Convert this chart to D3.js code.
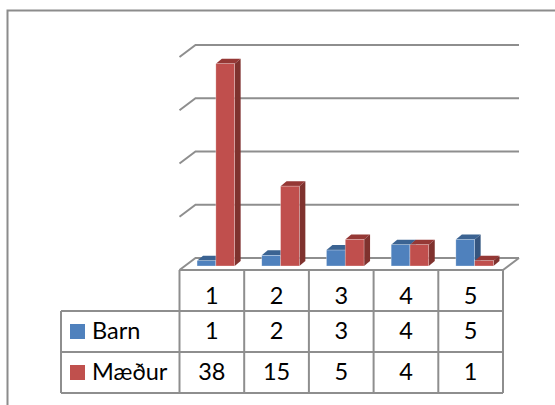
<!DOCTYPE html>
<html>
<head>
<meta charset="utf-8">
<script src="https://cdn.jsdelivr.net/npm/d3@7"></script>
<style>
  html, body { margin: 0; padding: 0; background: #fff; }
  svg { display: block; }
  text { font-family: Lato, "Open Sans", sans-serif; font-size: 23.5px; fill: #000; }
</style>
</head>
<body>
<svg></svg>
<script>
var categories = ["1", "2", "3", "4", "5"];
var seriesNames = ["Barn", "Mæður"];
var barn = [1, 2, 3, 4, 5];
var maedur = [38, 15, 5, 4, 1];
var yTicks = [0, 10, 20, 30, 40];

var width = 555;
var height = 405;
var gridColor = "#8e8e8e";

var colors = {
  "Barn": { face: "#4f81bd", side: "#34557f", top: "#3b6492" },
  "Mæður": { face: "#c0504d", side: "#7f312f", top: "#953735" }
};

var svg = d3.select("svg")
    .attr("width", width)
    .attr("height", height);

var defs = svg.append("defs");
defs.append("filter")
    .attr("id", "soft")
    .append("feGaussianBlur")
    .attr("stdDeviation", 0.45);

// outer frame, runs off the page on the right and bottom
svg.append("path")
    .attr("d", "M7.5," + height + "V10.5H" + width)
    .attr("fill", "none")
    .attr("stroke", "#8c8c8c")
    .attr("stroke-width", 2);

var xScale = d3.scaleBand()
    .domain(categories)
    .range([179.5, 503]);

// value axis measured on the back wall
var yScale = d3.scaleLinear()
    .domain([0, 40])
    .range([258, 45]);

var floorDepth = { dx: 16, dy: 12 };
var barDepth = { dx: 6, dy: 5 };
var barBase = 266;
var barWidth = 18.8;
var barShift = 4;

var walls = svg.append("g")
    .attr("fill", "none")
    .attr("stroke", gridColor)
    .attr("stroke-width", 2)
    .attr("filter", "url(#soft)");

walls.selectAll("path")
    .data(yTicks)
    .enter()
    .append("path")
    .attr("d", function(d) {
      var left = xScale.range()[0] + floorDepth.dx;
      var right = xScale.range()[1] + floorDepth.dx;
      return "M" + (left - floorDepth.dx) + "," + (yScale(d) + floorDepth.dy) +
             "L" + left + "," + yScale(d) + "H" + right;
    });

// front edge of the floor and its right side
walls.append("path")
    .attr("d", "M" + xScale.range()[0] + "," + (yScale(0) + floorDepth.dy) +
               "H" + xScale.range()[1] +
               "l" + floorDepth.dx + "," + (-floorDepth.dy));

var series = [
  { name: "Barn", values: barn, offset: 0 },
  { name: "Mæður", values: maedur, offset: 1 }
];

function heightOf(v) {
  return yScale(0) - yScale(v);
}

var barData = [];
categories.forEach(function(c, i) {
  series.forEach(function(s) {
    barData.push({ category: c, name: s.name, value: s.values[i], offset: s.offset });
  });
});

var bars = svg.append("g")
    .attr("filter", "url(#soft)")
    .selectAll("g")
    .data(barData)
    .enter()
    .append("g")
    .attr("transform", function(d) {
      var cx = xScale(d.category) + xScale.bandwidth() / 2 + barShift;
      return "translate(" + (cx - barWidth + d.offset * barWidth) + "," + (barBase - heightOf(d.value)) + ")";
    });

bars.append("path")
    .attr("fill", function(d) { return colors[d.name].top; })
    .attr("d", function() {
      return "M0,0l" + barDepth.dx + "," + (-barDepth.dy) + "h" + barWidth +
             "l" + (-barDepth.dx) + "," + barDepth.dy + "z";
    });

bars.append("path")
    .attr("fill", function(d) { return colors[d.name].side; })
    .attr("d", function(d) {
      var h = heightOf(d.value);
      return "M" + barWidth + ",0l" + barDepth.dx + "," + (-barDepth.dy) + "v" + h +
             "l" + (-barDepth.dx) + "," + barDepth.dy + "z";
    });

bars.append("rect")
    .attr("width", barWidth)
    .attr("height", function(d) { return heightOf(d.value); })
    .attr("fill", function(d) { return colors[d.name].face; })
    .attr("stroke", "#fff")
    .attr("stroke-opacity", 0.5)
    .attr("stroke-width", 0.6);

// data table under the plot
var rowTops = [270, 311, 352, 393];
var baselines = [304, 339, 380];
var legendLeft = 61;

var table = svg.append("g")
    .attr("fill", "none")
    .attr("stroke", gridColor)
    .attr("stroke-width", 2);

categories.concat([null]).forEach(function(c) {
  var x = c === null ? xScale.range()[1] : xScale(c);
  table.append("line")
      .attr("x1", x).attr("x2", x)
      .attr("y1", rowTops[0]).attr("y2", rowTops[3]);
});

table.append("line")
    .attr("x1", legendLeft).attr("x2", legendLeft)
    .attr("y1", rowTops[1]).attr("y2", rowTops[3]);

rowTops.slice(1).forEach(function(y) {
  table.append("line")
      .attr("x1", legendLeft).attr("x2", xScale.range()[1])
      .attr("y1", y).attr("y2", y);
});

function cellText(values, baseline) {
  svg.append("g")
      .selectAll("text")
      .data(values)
      .enter()
      .append("text")
      .text(function(d) { return d; })
      .attr("x", function(d, i) { return xScale(categories[i]) + xScale.bandwidth() / 2; })
      .attr("y", baseline)
      .style("text-anchor", "middle");
}

cellText(categories, baselines[0]);
cellText(barn, baselines[1]);
cellText(maedur, baselines[2]);

seriesNames.forEach(function(name, i) {
  var baseline = baselines[i + 1];
  svg.append("rect")
      .attr("x", 70)
      .attr("y", baseline - 15)
      .attr("width", 15)
      .attr("height", 15)
      .attr("fill", colors[name].face);
  svg.append("text")
      .text(name)
      .attr("x", 92)
      .attr("y", baseline);
});
</script>
</body>
</html>
